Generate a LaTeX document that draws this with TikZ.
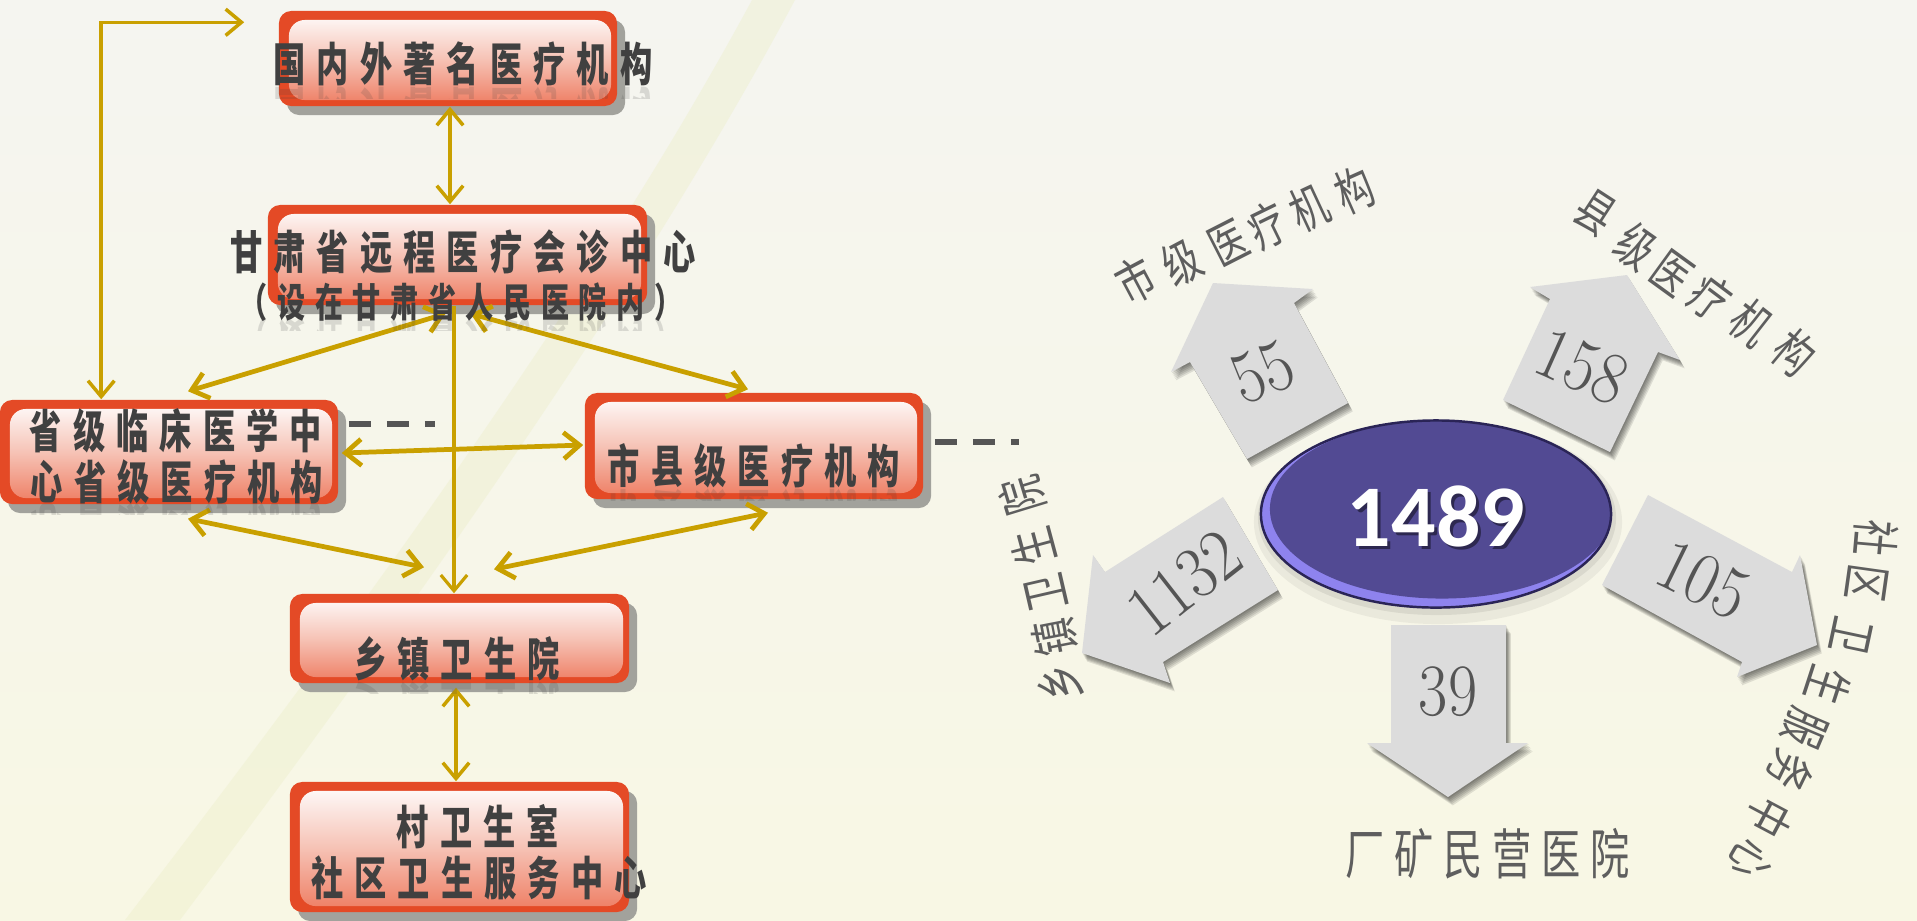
\documentclass[tikz,border=0pt]{standalone}
\usepackage{fontspec}
\usetikzlibrary{arrows.meta,calc,shadows,shapes.geometric}
\newfontfamily\cjkbox[FakeStretch=0.7,LetterSpace=24]{Noto Sans CJK SC}
\newfontfamily\cjklab[FakeStretch=0.74]{Noto Sans CJK SC}
\newfontfamily\cjkrow[FakeStretch=0.72,LetterSpace=18]{Noto Sans CJK SC}
\newfontfamily\hubfont{Carlito}
\definecolor{bgtop}{HTML}{F5F5F0}
\definecolor{bgbot}{HTML}{F8F7E4}
\definecolor{bandcol}{HTML}{ECEEC8}
\definecolor{boxred}{HTML}{E44A26}
\definecolor{boxlow}{HTML}{EE7B60}
\definecolor{boxmid}{HTML}{F6C3B6}
\definecolor{shgray}{HTML}{A2A29C}
\definecolor{gold}{HTML}{C9A000}
\definecolor{txtdark}{HTML}{404040}
\definecolor{dashgray}{HTML}{555555}
\definecolor{ellfill}{HTML}{524A93}
\definecolor{ellrim}{HTML}{8E83EE}
\definecolor{ellline}{HTML}{2A2456}
\definecolor{blockgray}{HTML}{DCDCDC}
\definecolor{numgray}{HTML}{555555}
\definecolor{labgray}{HTML}{5E5E5E}
\newcommand{\blockarrow}[1]{%
  \foreach \i in {1,...,6}{\fill[black,opacity=0.1,shift={(\i*0.8,\i*1.4)}] #1 -- cycle;}%
  \fill[blockgray] #1 -- cycle;}
\newcommand{\refltext}[5]{%
  \begin{scope}
    \clip (#2-230,#3) rectangle (#2+230,#3+12);
    \node[#4,yscale=-1,opacity=0.16,anchor=south] (#1) at (#2,#3) {#5};
  \end{scope}}
\begin{document}
\begin{tikzpicture}[x=0.01cm,y=-0.01cm,
  gbox/.style={fill=boxred,rounded corners=3.5pt,inner sep=0pt,
    drop shadow={shadow xshift=0.08cm,shadow yshift=-0.09cm,fill=shgray,opacity=1},
    path picture={\shade[top color=white,bottom color=boxlow,middle color=boxmid,rounded corners=4.5pt]
      ([xshift=0.1cm,yshift=-0.09cm]path picture bounding box.north west) rectangle
      ([xshift=-0.06cm,yshift=0.06cm]path picture bounding box.south east);}},
  boxtxt/.style={font=\cjkbox\bfseries\fontsize{13.1}{15}\selectfont,text=txtdark,inner sep=0pt},
  boxtxtsm/.style={font=\cjkbox\bfseries\fontsize{11.4}{13}\selectfont,text=txtdark,inner sep=0pt},
  conn/.style={draw=gold,line width=1.35pt,{Straight Barb[length=4.5pt,width=7.5pt]}-{Straight Barb[length=4.5pt,width=7.5pt]}},
  connone/.style={draw=gold,line width=0.9pt,-{Straight Barb[length=4.5pt,width=7.5pt]}},
  thinw/.style={line width=1pt},
  dashg/.style={draw=dashgray,line width=1.7pt,dash pattern=on 6.3pt off 4.5pt},
  numtxt/.style={font=\fontsize{21}{24}\selectfont,text=numgray,inner sep=0pt},
  labtxt/.style={font=\cjklab\fontsize{14}{16}\selectfont,text=labgray,inner sep=0pt},
  labtxtv/.style={font=\cjklab\fontsize{14}{16}\selectfont,text=labgray,inner sep=0pt},
  rowtxt/.style={font=\cjkrow\fontsize{15.5}{18}\selectfont,text=labgray,inner sep=0pt},
  hubtxt/.style={font=\hubfont\bfseries\fontsize{25}{28}\selectfont,inner sep=0pt}]
\useasboundingbox (0,0) rectangle (1917,920);
\shade[top color=bgtop,bottom color=bgbot] (0,0) rectangle (1917,920);
\fill[bandcol,opacity=0.4] (125,920) .. controls (340,640) and (590,300) .. (752,0) -- (795,0) .. controls (635,300) and (390,640) .. (180,920) -- cycle;
% ---------- boxes
\node[gbox,minimum width=3.38cm,minimum height=0.95cm] (A) at (448,58.5) {};
\node[gbox,minimum width=3.79cm,minimum height=1.00cm] (B) at (457.5,255) {};
\node[gbox,minimum width=3.38cm,minimum height=1.04cm] (C) at (169,452) {};
\node[gbox,minimum width=3.38cm,minimum height=1.06cm] (D) at (754,446) {};
\node[gbox,minimum width=3.39cm,minimum height=0.89cm] (E) at (459.5,638.5) {};
\node[gbox,minimum width=3.39cm,minimum height=1.30cm] (F) at (459.5,847) {};
% ---------- connectors
\draw[conn,thinw] ($(C.north west)+(102,0)$) |- ($(A.north west)+(-34,12)$);
\coordinate (ab) at ($(A.south)+(2,0)$);
\draw[conn,thinw] (ab) -- (ab |- B.north);
\draw[conn] ($(B.south)+(-12,8)$) -- ($(C.north)+(19,-8)$);
\draw[conn] ($(B.south)+(13,8)$) -- ($(D.north)+(-6,-3)$);
\coordinate (be) at ($(B.south)+(-3.5,0)$);
\draw[connone] (be) -- (be |- E.north);
\draw[conn] ($(C.east)+(3,1)$) -- ($(D.west)+(-1,-1)$);
\draw[conn] ($(C.south)+(19,14)$) -- ($(E.north)+(-35.5,-26)$);
\draw[conn] ($(D.south)+(14,13)$) -- ($(E.north)+(34.5,-24)$);
\coordinate (ef) at ($(E.south)+(-3.5,4)$);
\draw[conn,thinw] (ef) -- (ef |- F.north);
\draw[dashg] ($(C.east)+(10,-28)$) -- ++(86,0);
\draw[dashg] ($(D.east)+(11,-4)$) -- ++(84,0);
% ---------- box texts
\refltext{rA}{463}{86}{boxtxt}{国内外著名医疗机构}
\node[boxtxt] (tA) at (463,64) {国内外著名医疗机构};
\node[boxtxt] (tB1) at (463,252) {甘肃省远程医疗会诊中心};
\refltext{rB}{461}{318}{boxtxtsm}{（设在甘肃省人民医院内）}
\node[boxtxtsm] (tB2) at (461,302) {（设在甘肃省人民医院内）};
\node[boxtxt] (tC1) at (176,431) {省级临床医学中};
\refltext{rC}{177}{502}{boxtxt}{心省级医疗机构}
\node[boxtxt] (tC2) at (177,482) {心省级医疗机构};
\refltext{rD}{754}{488}{boxtxt}{市县级医疗机构}
\node[boxtxt] (tD) at (754,466) {市县级医疗机构};
\refltext{rE}{457}{681}{boxtxt}{乡镇卫生院}
\node[boxtxt] (tE) at (457,659) {乡镇卫生院};
\node[boxtxt] (tF1) at (478,827) {村卫生室};
\node[boxtxt] (tF2) at (479,878) {社区卫生服务中心};
% ---------- hub
\fill[black,opacity=0.05] (1438,522) ellipse [x radius=1.84cm,y radius=1.02cm];
\fill[black,opacity=0.07] (1437,518) ellipse [x radius=1.79cm,y radius=0.97cm];
\node[ellipse,minimum width=3.5cm,minimum height=1.87cm,fill=ellrim,draw=ellline,line width=0.7pt,inner sep=0pt,
  path picture={\fill[ellfill] ([xshift=0.06cm,yshift=0.05cm]path picture bounding box.center) ellipse [x radius=1.72cm,y radius=0.895cm];}] (hub) at (1436,514) {};
\node[hubtxt,text=black,opacity=0.45] (hubsh) at (1439,519) {1489};
\node[hubtxt,text=white] (hubtx) at (1436,516) {1489};
% ---------- block arrows
\blockarrow{(1213,283) -- (1313,289) -- (1294,303) -- (1348,403) -- (1247,459) -- (1190,362) -- (1171,372)}
\blockarrow{(1627,275) -- (1680,360) -- (1658,352) -- (1610,452) -- (1503,400) -- (1550,299) -- (1530,287)}
\blockarrow{(1082,653) -- (1093,555) -- (1105,572) -- (1223,497) -- (1278,590) -- (1163,662) -- (1170,683)}
\blockarrow{(1648,495) -- (1792,572) -- (1800,555) -- (1817,645) -- (1737,677) -- (1742,662) -- (1602,585)}
\blockarrow{(1391,625) -- (1506,625) -- (1506,743) -- (1528,743) -- (1448,797) -- (1367,743) -- (1391,743)}
\node[numtxt,rotate=22,xscale=0.9] (n55) at (1263,372) {55};
\node[numtxt,rotate=-24,xscale=0.9] (n158) at (1582,367) {158};
\node[numtxt,rotate=38,xscale=0.9] (n1132) at (1185,583) {1132};
\node[numtxt,rotate=-26,xscale=0.9] (n105) at (1703,580) {105};
\node[numtxt,xscale=0.86] (n39) at (1448,692) {39};
% ---------- labels
\foreach \c/\x/\y/\r [count=\n] in {市/1136/280/28,级/1182/262/28,医/1228/243/27,疗/1268/226/26,机/1309/208/25,构/1355/190/24}
  \node[labtxt,rotate=\r] (la\n) at (\x,\y) {\c};
\foreach \c/\x/\y/\r [count=\n] in {县/1595/213/-33,级/1636/247/-35,医/1672/273/-36,疗/1710/297/-37,机/1751/323/-38,构/1794/353/-40}
  \node[labtxt,rotate=\r] (lb\n) at (\x,\y) {\c};
\foreach \c/\x/\y/\r [count=\n] in {乡/1060/683/100,镇/1055/637/101,卫/1046/593/103,生/1033/547/105,院/1022/496/107}
  \node[labtxtv,rotate=\r] (lc\n) at (\x,\y) {\c};
\foreach \c/\x/\y/\r [count=\n] in {社/1876/538/-95,区/1867/583/-98,卫/1851/636/-102,生/1828/686/-108,服/1805/728/-113,务/1790/771/-116,中/1769/817/-118,心/1751/860/-120}
  \node[labtxtv,rotate=\r] (ld\n) at (\x,\y) {\c};
\node[rowtxt] (le) at (1488,854) {厂矿民营医院};
\end{tikzpicture}
\end{document}
